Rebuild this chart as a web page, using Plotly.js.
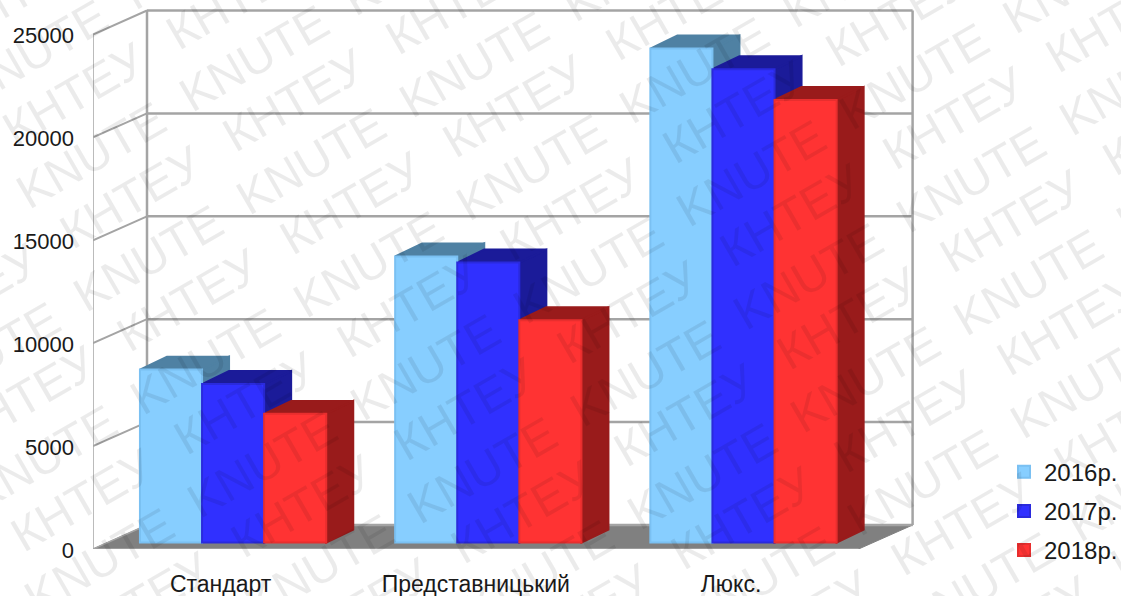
<!DOCTYPE html>
<html>
<head>
<meta charset="utf-8">
<script src="https://cdn.plot.ly/plotly-3.0.1.min.js"></script>
<style>html,body{margin:0;padding:0;background:#fff;overflow:hidden}</style>
</head>
<body>
<div id="chart" style="width:1121px;height:596px"></div>
<script>
// Room categories and yearly values
const categories = ['Стандарт', 'Представницький', 'Люкс.'];
const years = ['2016р.', '2017р.', '2018р.'];
const values2016 = [8400, 13900, 24000];
const values2017 = [7700, 13600, 23000];
const values2018 = [6250, 10800, 21500];
const yTicks = [0, 5000, 10000, 15000, 20000, 25000];

// Face colours per series
const frontColors = ['#87CEFF', '#3030FF', '#FF3333'];
const edgeColors = ['#7AC0F2', '#2A2ADD', '#E82E2E'];
const topColors = ['#4F81A3', '#1B1B99', '#991B1B'];
const sideColors = ['#4F81A3', '#1B1B99', '#991B1B'];
const series = [values2016, values2017, values2018];

// Plot frame in pixels and the scale of both axes
const W = 1121, H = 596;
const left = 93, plotRight = 1000, baseY = 549.5;
const pxPerCat = 255.2, pxPerUnit = 103 / 5000;
const xRange = [-0.5, -0.5 + (plotRight - left) / pxPerCat];
const yRange = [0, baseY / pxPerUnit];
const px2x = p => p / pxPerCat;
const px2y = p => p / pxPerUnit;

// Oblique projection: the room's depth and the bars' own depth
const roomDx = px2x(54), roomDy = px2y(24);
const barShiftX = px2x(12.5), barBase = px2y(6.5);
const barDx = px2x(27), barDy = px2y(13);
const gap = 0.27;
const barW = (1 - gap) / 3;

const poly = pts => 'M' + pts.map(p => p[0] + ' ' + p[1]).join('L') + 'Z';
const wallLine = '#A4A4A4';
const shapes = [];
const addLine = (x0, y0, x1, y1, w) => shapes.push({
  type: 'line', xref: 'x', yref: 'y', layer: 'below', x0, y0, x1, y1,
  line: {color: wallLine, width: w}
});

// Floor of the room
const xL = xRange[0], xR = 2.5;
shapes.push({
  type: 'path', xref: 'x', yref: 'y', layer: 'below',
  path: poly([[xL, 0], [xL + roomDx, roomDy], [xR + roomDx, roomDy], [xR, 0]]),
  fillcolor: '#808080', line: {color: '#808080', width: 1}
});

// Back wall gridlines and the matching slanted lines on the left wall
yTicks.forEach(t => {
  addLine(xL + roomDx, t + roomDy, xR + roomDx, t + roomDy, 2.5);
  addLine(xL, t, xL + roomDx, t + roomDy, t === 0 ? 1.5 : 2);
});
addLine(xL + roomDx, roomDy, xL + roomDx, yTicks[5] + roomDy, 2.5);
addLine(xR + roomDx, roomDy, xR + roomDx, yTicks[5] + roomDy, 2.5);
addLine(xL, 0, xL, yTicks[5], 1.5);
addLine(xL, 0, xR, 0, 1.5);

// Top and side faces of every bar, back to front, series by series
categories.forEach((c, ci) => {
  series.forEach((vals, si) => {
    const x0 = ci + barShiftX - (1 - gap) / 2 + si * barW;
    const x1 = x0 + barW;
    const y1 = barBase + vals[ci];
    shapes.push({
      type: 'path', xref: 'x', yref: 'y', layer: 'below',
      path: poly([[x1, barBase], [x1 + barDx, barBase + barDy], [x1 + barDx, y1 + barDy], [x1, y1]]),
      fillcolor: sideColors[si], line: {color: sideColors[si], width: 2}
    });
    shapes.push({
      type: 'path', xref: 'x', yref: 'y', layer: 'below',
      path: poly([[x0, y1], [x0 + barDx, y1 + barDy], [x1 + barDx, y1 + barDy], [x1, y1]]),
      fillcolor: topColors[si], line: {color: topColors[si], width: 2}
    });
  });
});

// Front faces are ordinary grouped bars raised slightly off the front edge
const traces = series.map((vals, si) => ({
  type: 'bar',
  name: years[si],
  legendgroup: years[si],
  x: categories.map((c, i) => i + barShiftX),
  y: vals,
  base: vals.map(() => barBase),
  marker: {color: frontColors[si], line: {color: edgeColors[si], width: 2}},
  hoverinfo: 'skip'
}));

// Repeating diagonal KNUTE / КНТЕУ stamp across the page
const stampFont = {family: 'Liberation Sans, Arial, sans-serif', size: 48, color: 'rgba(0,0,0,0.08)'};
const annotations = [];
const addStamp = (text, px, py) => {
  if (px < -70 || px > W + 70 || py < -50 || py > H + 50) return;
  annotations.push({
    xref: 'paper', yref: 'paper', showarrow: false, text, textangle: -30, font: stampFont,
    x: (px - left) / (plotRight - left), y: (baseY - py) / baseY,
    xanchor: 'center', yanchor: 'middle'
  });
};
for (let j = -8; j < 10; j++) {
  for (let i = -8; i < 10; i++) {
    const cx = 254 + i * 220 + j * 57, cy = 59 + i * 6 + j * 103;
    addStamp('KNUTE', cx, cy);
    addStamp('КНТЕУ', cx + 40, cy + 42);
  }
}

const tickFont = {family: 'Liberation Sans, Arial, sans-serif', size: 22, color: '#1a1a1a'};
const catFont = {family: 'Liberation Sans, Arial, sans-serif', size: 23, color: '#1a1a1a'};
const layout = {
  width: W, height: H,
  margin: {l: left, r: W - plotRight, t: 0, b: H - baseY, pad: 0, autoexpand: false},
  paper_bgcolor: '#fff', plot_bgcolor: 'rgba(0,0,0,0)',
  barmode: 'group', bargap: gap, bargroupgap: 0,
  showlegend: true,
  legend: {
    x: (1004 - left) / (plotRight - left), xanchor: 'left',
    y: (baseY - 450) / baseY, yanchor: 'top',
    traceorder: 'grouped', tracegroupgap: 5,
    font: {family: 'Liberation Sans, Arial, sans-serif', size: 24, color: '#1a1a1a'},
    bgcolor: 'rgba(0,0,0,0)', borderwidth: 0
  },
  xaxis: {
    range: xRange, tickmode: 'array', tickvals: categories.map((c, i) => i), ticktext: categories,
    showgrid: false, zeroline: false, showline: false, ticks: '', tickfont: catFont,
    ticklabelstandoff: 19, fixedrange: true
  },
  yaxis: {
    range: yRange, tickmode: 'array', tickvals: yTicks, ticktext: yTicks.map(String),
    showgrid: false, zeroline: false, showline: false, ticks: '', tickfont: tickFont,
    ticklabelstandoff: 18, ticklabelshift: 1, fixedrange: true
  },
  shapes, annotations
};

Plotly.newPlot('chart', traces, layout, {displayModeBar: false, staticPlot: true});
</script>
</body>
</html>
